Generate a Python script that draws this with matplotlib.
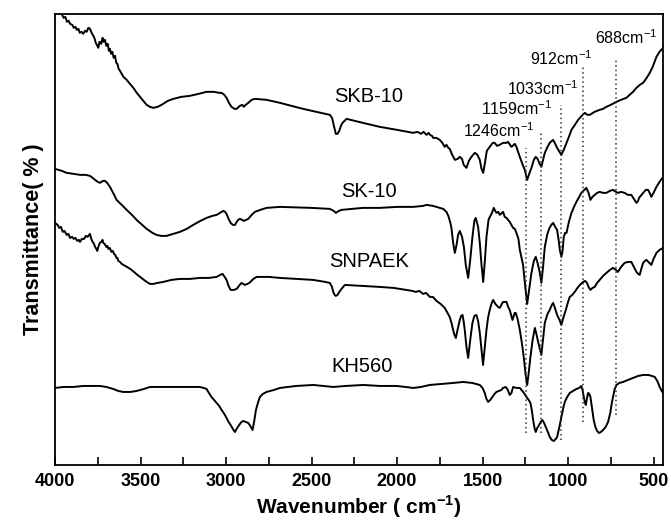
import matplotlib
matplotlib.use('Agg')
import matplotlib.pyplot as plt
from matplotlib.ticker import MultipleLocator
import numpy as np

plt.rcParams['font.family'] = ['Liberation Sans', 'DejaVu Sans']
plt.rcParams['mathtext.fontset'] = 'custom'
plt.rcParams['mathtext.rm'] = 'Liberation Sans'
plt.rcParams['mathtext.bf'] = 'Liberation Sans:bold'

# spectra: (wavenumber, transmittance in arbitrary offset units)
skb10 = [(4000, 453), (3961, 451), (3950, 447), (3940, 448), (3930, 443), (3920, 444), (3912, 441), (3900, 440),
         (3890, 437), (3880, 438), (3873, 435), (3863, 436), (3855, 432), (3845, 433), (3835, 431), (3825, 434),
         (3815, 433), (3805, 437), (3796, 436), (3786, 432), (3776, 429), (3768, 426), (3762, 422), (3755, 420),
         (3747, 417), (3740, 423), (3730, 421), (3722, 427), (3716, 423), (3708, 425), (3700, 419), (3692, 421),
         (3685, 414), (3679, 416), (3672, 411), (3665, 413), (3657, 407), (3649, 409), (3642, 402), (3635, 401),
         (3628, 396), (3620, 394), (3610, 391), (3600, 388),
         (3581, 385), (3562, 381), (3542, 377), (3522, 372), (3503, 368), (3484, 364), (3464, 360), (3445, 358),
         (3425, 357), (3400, 358), (3377, 360), (3340, 364), (3308, 366), (3260, 368), (3211, 369), (3160, 371),
         (3114, 373), (3070, 373), (3040, 372), (3026, 372), (3010, 370), (2997, 367), (2983, 362), (2968, 358),
         (2950, 356), (2938, 356), (2919, 359), (2905, 360), (2896, 358), (2885, 360), (2870, 362), (2850, 365),
         (2831, 366), (2763, 365), (2685, 362), (2550, 356), (2393, 350), (2380, 347), (2373, 342), (2365, 336),
         (2358, 331), (2348, 331), (2338, 334), (2328, 339), (2319, 342), (2295, 346), (2200, 342), (2101, 338),
         (2000, 335), (1906, 332), (1880, 333), (1860, 331), (1845, 333), (1828, 330), (1815, 332), (1808, 330),
         (1795, 329), (1789, 327), (1770, 327), (1750, 325),
         (1735, 322), (1721, 318), (1711, 320), (1700, 317), (1692, 316), (1680, 311), (1662, 305), (1645, 306),
         (1633, 308), (1620, 306), (1610, 300), (1594, 297), (1580, 304), (1565, 308), (1545, 312), (1530, 310),
         (1516, 305), (1506, 296), (1496, 292), (1486, 302), (1475, 314), (1458, 318), (1440, 322), (1429, 322),
         (1415, 319), (1400, 320), (1380, 322), (1360, 322), (1351, 323), (1331, 318), (1311, 321), (1302, 318),
         (1282, 308), (1265, 300), (1253, 295), (1239, 285), (1225, 292), (1214, 297), (1200, 305), (1189, 308),
         (1178, 306), (1169, 302), (1156, 298), (1146, 305), (1136, 312), (1120, 318), (1107, 322), (1087, 325),
         (1075, 321), (1064, 317), (1050, 313), (1039, 310), (1025, 315), (1009, 322), (995, 328), (980, 335),
         (960, 340), (941, 345), (920, 349), (902, 352), (887, 350), (873, 350), (845, 353), (815, 355), (795, 356),
         (776, 358), (750, 360), (717, 363), (690, 365), (659, 367), (640, 370), (620, 373), (600, 377), (580, 380),
         (561, 382), (540, 387), (522, 392), (505, 398), (483, 408), (465, 413), (444, 417)]

sk10 = [(4000, 296), (3960, 294), (3932, 292), (3890, 291), (3854, 290), (3820, 290), (3796, 289), (3780, 287),
        (3766, 285), (3750, 283), (3737, 282), (3720, 284), (3708, 284), (3695, 282), (3679, 278), (3660, 272),
        (3640, 265), (3610, 260), (3581, 255), (3550, 250), (3523, 245), (3490, 240), (3464, 236), (3430, 232),
        (3406, 230), (3380, 229), (3348, 229), (3310, 231), (3270, 233), (3230, 236), (3192, 240), (3150, 244),
        (3114, 247), (3080, 249), (3055, 250), (3035, 252), (3016, 254), (3005, 253), (2997, 251), (2985, 246),
        (2973, 242), (2960, 240), (2948, 240), (2930, 245), (2919, 246), (2905, 245), (2896, 244), (2883, 245),
        (2870, 246), (2850, 250), (2831, 253), (2800, 255), (2763, 257), (2685, 258), (2500, 257), (2393, 256),
        (2370, 254), (2358, 252), (2340, 254), (2325, 255), (2200, 257), (2101, 257), (2000, 258), (1906, 258),
        (1847, 259), (1828, 260), (1790, 259), (1750, 257), (1730, 256), (1711, 253), (1700, 249), (1688, 242),
        (1681, 236), (1672, 222), (1662, 212), (1652, 220), (1643, 230), (1633, 234), (1620, 228), (1609, 218),
        (1598, 200), (1584, 187), (1572, 205), (1559, 228), (1548, 244), (1540, 247), (1526, 238), (1516, 222),
        (1506, 200), (1496, 183), (1486, 205), (1477, 228), (1465, 245), (1457, 248), (1445, 252), (1434, 257),
        (1426, 254), (1418, 252), (1408, 253), (1399, 250), (1380, 253), (1370, 248), (1360, 247), (1341, 243),
        (1331, 240), (1321, 237), (1311, 236), (1302, 232), (1290, 226), (1282, 215), (1263, 200), (1250, 178),
        (1239, 161), (1228, 175), (1214, 192), (1200, 204), (1189, 208), (1178, 202), (1165, 192), (1156, 182),
        (1146, 198), (1136, 218), (1122, 230), (1111, 236), (1098, 240), (1087, 242), (1075, 238), (1064, 235),
        (1055, 225), (1048, 215), (1039, 208), (1032, 214), (1025, 228), (1017, 232), (1009, 232), (995, 243),
        (980, 252), (965, 258), (951, 263), (935, 268), (922, 272), (905, 275), (893, 277), (880, 272), (869, 265),
        (857, 268), (844, 270), (830, 272), (815, 273), (795, 272), (776, 272), (755, 274), (737, 275), (720, 273),
        (708, 272), (690, 273), (669, 272), (650, 270), (630, 270), (615, 266), (600, 262), (590, 264), (585, 267),
        (570, 270), (561, 272), (545, 275), (532, 275), (520, 271), (513, 268), (500, 272), (483, 278), (465, 283),
        (444, 288)]

snpaek = [(4000, 242), (3985, 240), (3975, 237), (3965, 238), (3955, 233), (3945, 234), (3932, 230), (3922, 231),
          (3912, 227), (3900, 228), (3890, 226), (3880, 227), (3870, 224), (3860, 225), (3854, 223), (3843, 226),
          (3830, 226), (3820, 229), (3810, 228), (3796, 231), (3788, 226), (3780, 223), (3772, 221), (3766, 218),
          (3758, 216), (3753, 214), (3745, 219), (3738, 222), (3730, 223), (3722, 225), (3718, 222), (3710, 221),
          (3700, 218), (3694, 219), (3688, 216), (3680, 217), (3670, 213), (3662, 214), (3655, 211), (3648, 210),
          (3640, 207), (3635, 207), (3630, 204), (3620, 203), (3610, 201), (3600, 200), (3591, 199),
          (3570, 197), (3552, 195), (3525, 191), (3503, 188), (3480, 185), (3464, 183),
          (3445, 181), (3425, 181), (3400, 182), (3367, 183), (3320, 185), (3270, 186), (3210, 186), (3153, 187),
          (3100, 187), (3055, 188), (3035, 190), (3020, 191), (3008, 188), (2997, 185), (2985, 179), (2973, 175),
          (2955, 175), (2938, 176), (2920, 180), (2909, 182), (2899, 181), (2890, 180), (2875, 181), (2864, 182),
          (2840, 186), (2821, 188), (2750, 188), (2685, 187), (2590, 186), (2490, 185), (2420, 183), (2393, 182),
          (2380, 178), (2373, 173), (2365, 170), (2358, 169), (2348, 170), (2338, 173), (2320, 177), (2305, 180),
          (2200, 179), (2101, 178), (2020, 177), (1945, 175), (1910, 174), (1890, 173), (1870, 174), (1847, 171),
          (1830, 172), (1808, 168), (1790, 168), (1769, 164), (1745, 161), (1721, 157), (1705, 152), (1692, 148),
          (1680, 141), (1672, 135), (1664, 130), (1656, 127),
          (1645, 136), (1633, 145), (1625, 149), (1617, 150), (1610, 143), (1604, 135), (1594, 118), (1584, 107),
          (1572, 125), (1559, 142), (1548, 149), (1536, 150), (1526, 144), (1516, 132), (1506, 115), (1497, 100),
          (1487, 118), (1477, 135), (1468, 147), (1458, 155), (1448, 161), (1438, 165), (1425, 161), (1409, 158),
          (1399, 157), (1390, 160), (1380, 163), (1360, 163), (1350, 158), (1341, 155), (1325, 145), (1312, 152),
          (1306, 152), (1295, 146), (1282, 135), (1270, 122), (1259, 108), (1248, 90), (1239, 80), (1230, 92),
          (1220, 108), (1207, 125), (1194, 137), (1185, 131), (1175, 123), (1165, 116), (1156, 110), (1146, 126),
          (1136, 142), (1120, 151), (1107, 155), (1095, 160), (1087, 162), (1075, 156), (1064, 150), (1050, 145),
          (1039, 140), (1026, 148), (1013, 155), (1000, 163), (990, 168), (975, 170), (961, 173), (945, 177),
          (931, 180), (912, 183), (900, 184), (889, 182), (880, 178), (869, 175), (857, 177), (844, 178), (830, 182),
          (815, 185), (795, 189), (776, 192), (755, 195), (737, 197), (720, 195), (708, 193), (690, 198), (669, 202),
          (650, 203), (630, 203), (615, 198), (600, 193), (590, 191), (581, 190), (570, 197), (561, 202), (550, 204),
          (542, 205), (530, 203), (513, 200), (500, 206), (483, 212), (465, 215), (444, 217)]

kh560 = [(4000, 77), (3950, 78), (3893, 78), (3834, 79), (3780, 79), (3737, 79), (3700, 78), (3659, 76), (3630, 74),
         (3601, 73), (3560, 73), (3523, 74), (3480, 76), (3445, 78), (3380, 78), (3308, 78), (3230, 78), (3153, 78),
         (3130, 77), (3114, 76), (3100, 72), (3085, 68), (3070, 65), (3055, 62), (3040, 59), (3026, 55), (3010, 51),
         (2997, 47), (2985, 43), (2973, 40), (2960, 36), (2948, 33), (2935, 37), (2923, 40), (2910, 43), (2899, 44),
         (2885, 43), (2870, 42), (2858, 39), (2845, 35), (2835, 44), (2825, 55), (2812, 63), (2802, 68), (2785, 71),
         (2763, 73), (2720, 75), (2685, 77), (2590, 79), (2490, 80), (2430, 79), (2373, 78), (2300, 79), (2198, 80),
         (2100, 79), (2003, 79), (1950, 78), (1906, 77), (1860, 78), (1808, 80), (1740, 81), (1672, 82), (1614, 83),
         (1560, 82), (1516, 80), (1500, 77), (1487, 72), (1477, 66), (1467, 63), (1455, 65), (1442, 68), (1430, 71),
         (1419, 73), (1405, 74), (1390, 75), (1380, 77), (1364, 78), (1352, 75), (1341, 70), (1331, 72), (1321, 78),
         (1302, 77), (1282, 77), (1272, 75), (1258, 72), (1243, 68), (1230, 65), (1220, 62), (1212, 55), (1204, 45),
         (1196, 37), (1189, 33), (1180, 37), (1169, 40), (1160, 43), (1150, 45), (1140, 42), (1130, 38), (1118, 33),
         (1107, 28), (1095, 25), (1083, 24), (1072, 26), (1064, 28), (1052, 37), (1039, 48), (1028, 57), (1019, 63),
         (1005, 68), (990, 72), (970, 74), (951, 76), (935, 77), (922, 79), (914, 74), (908, 68), (902, 63), (896, 60),
         (890, 66), (883, 72), (876, 71), (869, 68), (860, 57), (850, 45), (840, 38), (830, 34), (819, 32), (808, 33),
         (795, 35), (780, 38), (766, 43), (752, 53), (745, 61), (737, 68), (727, 76), (717, 80), (700, 82), (678, 83),
         (650, 85), (620, 87), (590, 89), (561, 90), (530, 90), (510, 89), (493, 88), (478, 84), (464, 78), (452, 74),
         (444, 72)]

sample_names = ['SKB-10', 'SK-10', 'SNPAEK', 'KH560']
name_x = [2165, 2165, 2165, 2206]
name_y = [368, 273, 203, 98]

peak_labels = ['1246', '1159', '1033', '912', '688']
peak_lines = [1246, 1159, 1040, 912, 717]
line_lo = [32, 32, 25, 43, 50]
line_hi = [317, 333, 360, 398, 405]
label_x = [1405, 1300, 1151, 1037, 657]
label_y = [328, 350, 370, 400, 421]

fig = plt.figure(figsize=(6.71, 5.21), dpi=100)
ax = fig.add_axes([0.082, 0.1075, 0.906, 0.866])

for spec in [skb10, sk10, snpaek, kh560]:
    d = np.array(spec)
    ax.plot(d[:, 0], d[:, 1], color='black', lw=1.4)

for name, x, y in zip(sample_names, name_x, name_y):
    ax.text(x, y, name, fontsize=14.5, ha='center', va='center')

for lab, xl, lo, hi, tx, ty in zip(peak_labels, peak_lines, line_lo, line_hi, label_x, label_y):
    ax.plot([xl, xl], [lo, hi], color='#333333', lw=1.1, linestyle=(0, (1, 2.0)))
    ax.text(tx, ty, lab + r'cm$^{-1}$', fontsize=11.5, ha='center', va='baseline')

ax.set_xlim(4000, 445)
ax.set_ylim(0, 451)
ax.xaxis.set_major_locator(MultipleLocator(500))
ax.xaxis.set_minor_locator(MultipleLocator(250))
ax.tick_params(axis='x', which='both', direction='in', length=6, width=1.2, top=False, pad=6)
ax.set_yticks([])
for lbl in ax.get_xticklabels():
    lbl.set_fontweight('bold')
    lbl.set_fontsize(13)
for s in ax.spines.values():
    s.set_linewidth(1.3)

ax.set_xlabel(r'Wavenumber ( cm$^{\mathbf{-1}}$)', fontsize=15, fontweight='bold', labelpad=2)
ax.set_ylabel('Transmittance( % )', fontsize=15.5, fontweight='bold', labelpad=8)

plt.savefig('out.png', dpi=100)
